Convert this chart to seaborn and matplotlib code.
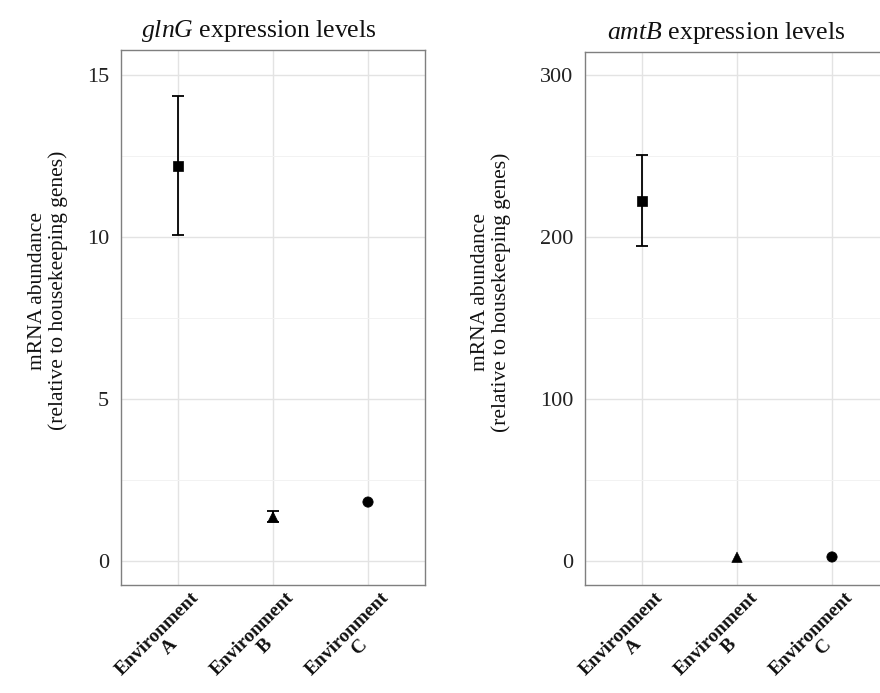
import matplotlib
matplotlib.use("Agg")
import matplotlib.pyplot as plt
import seaborn as sns
import pandas as pd

# Expression summary (mean and standard error) per environment
environments = ["Environment\nA", "Environment\nB", "Environment\nC"]
glnG_mean = [12.2, 1.36, 1.82]
glnG_err = [2.15, 0.17, 0.0]
amtB_mean = [222.4, 2.3, 2.5]
amtB_err = [28.2, 0.0, 0.0]

glnG_ticks = [0, 5, 10, 15]
amtB_ticks = [0, 100, 200, 300]

sns.set_theme(style="white")
plt.rcParams["font.family"] = ["Liberation Serif", "DejaVu Serif"]
plt.rcParams["mathtext.fontset"] = "custom"
plt.rcParams["mathtext.rm"] = "Liberation Serif"
plt.rcParams["mathtext.it"] = "Liberation Serif:italic"

fig = plt.figure(figsize=(8.8, 6.93), dpi=100)
W, H = 880, 693


def panel(px_left, px_top, px_right, px_bottom):
    return fig.add_axes([px_left / W, 1 - px_bottom / H,
                         (px_right - px_left) / W, (px_bottom - px_top) / H])


markers = {environments[0]: "s", environments[1]: "^", environments[2]: "o"}


def draw(ax, mean, err, ticks, minor, ylim, title, title_x, ylab_x):
    df = pd.DataFrame({"env": environments, "pos": range(len(environments)),
                       "val": mean, "err": err})
    bars = df[df["err"] > 0]
    ax.errorbar(bars["pos"], bars["val"], yerr=bars["err"], fmt="none",
                ecolor="black", elinewidth=1.3, capsize=4, capthick=1.3, zorder=3)
    sns.scatterplot(data=df, x="env", y="val", style="env", markers=markers,
                    color="black", s=55, edgecolor="black", linewidth=0.5,
                    legend=False, ax=ax, zorder=4)
    ax.set_xlim(-0.6, 2.6)
    ax.set_ylim(*ylim)
    ax.set_yticks(ticks)
    ax.set_yticks(minor, minor=True)
    ax.set_xticks(range(len(environments)))
    ax.set_xticklabels([])
    ax.grid(True, which="major", color="#E3E3E3", linewidth=1.0, zorder=0)
    ax.grid(True, which="minor", axis="y", color="#F2F2F2", linewidth=0.7, zorder=0)
    ax.set_axisbelow(True)
    for s in ax.spines.values():
        s.set_color("#7F7F7F")
        s.set_linewidth(1.0)
    ax.tick_params(axis="both", which="major", length=4.5, width=1.0, color="#333333",
                   labelsize=16, labelcolor="#222222", pad=4)
    ax.tick_params(axis="both", which="minor", length=0)
    ax.set_xlabel("")
    ax.set_ylabel("mRNA abundance\n(relative to housekeeping genes)", fontsize=15.5,
                  color="#111111", linespacing=1.12)
    ax.yaxis.set_label_coords(ylab_x, 0.55)
    ax.set_title(title, fontsize=18.5, color="#111111", x=title_x, pad=9)
    for i, lab in enumerate(environments):
        ax.annotate(lab, xy=(i, 0), xycoords=("data", "axes fraction"),
                    xytext=(9, -3), textcoords="offset points",
                    rotation=45, rotation_mode="anchor", ha="right", va="top",
                    multialignment="center", fontsize=14, fontweight="bold",
                    color="#111111", linespacing=1.05)


ax1 = panel(121, 50, 425, 585)
draw(ax1, glnG_mean, glnG_err, glnG_ticks, [2.5, 7.5, 12.5], (-0.74, 15.77),
     r"$\mathit{glnG}$ expression levels", 0.454, -0.174)

ax2 = panel(585, 52, 889, 585)
draw(ax2, amtB_mean, amtB_err, amtB_ticks, [50, 150, 250], (-14.8, 314.2),
     r"$\mathit{amtB}$ expression levels", 0.464, -0.243)

fig.savefig("out.png", dpi=100)
